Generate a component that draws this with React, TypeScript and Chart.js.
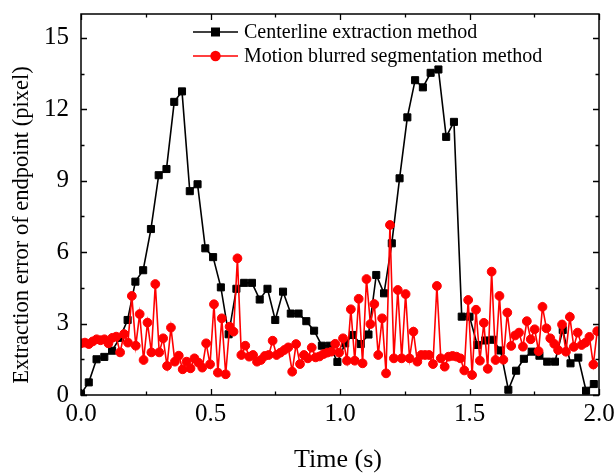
import React, { useEffect, useRef } from 'react';
import { Chart, registerables } from 'chart.js';

Chart.register(...registerables);

// ---- data ----
const seriesNames = ['Centerline extraction method', 'Motion blurred segmentation method'];
const centerlineStep = 0.03; // s between frames
const motionStep = 0.0151; // s between frames
const centerlineError = [
  0.05, 0.53, 1.5, 1.6, 1.86, 2.4, 3.15, 4.76, 5.24, 6.97,
  9.23, 9.49, 12.31, 12.75, 8.56, 8.85, 6.16, 5.79, 4.52, 2.55,
  4.46, 4.71, 4.71, 4.01, 4.46, 3.15, 4.34, 3.42, 3.42, 3.1,
  2.7, 2.07, 2.07, 1.39, 2.17, 2.52, 2.14, 2.54, 5.04, 4.27,
  6.37, 9.1, 11.66, 13.22, 12.92, 13.53, 13.67, 10.84, 11.47, 3.29,
  3.29, 2.1, 2.29, 2.32, 1.87, 0.22, 1.02, 1.52, 1.82, 1.65,
  1.4, 1.4, 2.73, 1.33, 1.57, 0.18, 0.46,
];
const motionBlurError = [
  2.17, 2.2, 2.14, 2.25, 2.34, 2.3, 2.34, 2.17, 2.4, 2.45, 1.79, 2.56, 2.2,
  4.16, 2.07, 3.4, 1.47, 3.04, 1.79, 4.66, 1.79, 2.38, 1.22, 2.83, 1.4, 1.65, 1.08, 1.4, 1.12,
  1.54, 1.36, 1.15, 2.17, 1.29, 3.81, 0.94, 3.22, 0.87, 2.87, 2.66, 5.74, 1.68, 2.07, 1.61, 1.68, 1.4,
  1.47, 1.64, 1.68, 2.28, 1.68, 1.78, 1.89, 2.0, 0.98, 2.14, 1.3, 1.68, 1.54, 1.99, 1.58, 1.62, 1.72, 1.78, 1.82,
  2.15, 1.78, 2.38, 1.44, 3.6, 1.44, 4.04, 1.33, 4.87, 2.98, 3.82, 1.68, 3.22, 0.91, 7.14, 1.54, 4.41,
  1.54, 4.24, 1.54, 2.66, 1.4, 1.68, 1.68, 1.68, 1.3, 4.58, 1.54, 1.19, 1.61, 1.64, 1.61, 1.54,
  1.03, 3.99, 0.84, 3.58, 1.44, 3.03, 1.1, 5.18, 1.47, 4.16, 1.48, 3.46, 2.06, 2.5, 2.62, 2.03, 3.1,
  2.34, 2.76, 1.84, 3.7, 2.8, 2.38, 2.15, 1.89, 2.96, 1.82, 3.28, 2.02, 2.62, 2.1, 2.2, 2.44, 1.28, 2.68,
];
const xTicks = [0, 0.5, 1.0, 1.5, 2.0];
const xMinorTicks = [0.25, 0.75, 1.25, 1.75];
const yTicks = [0, 3, 6, 9, 12, 15];
const yMinorTicks = [1.5, 4.5, 7.5, 10.5, 13.5];
const xTitle = 'Time (s)';
const yTitle = 'Extraction error of endpoint (pixel)';

const FONT = '"Liberation Serif", "Times New Roman", serif';
const RED = '#ff0000';
const BLACK = '#000000';

const framePlugin = {
  id: 'frame',
  afterDatasetsDraw(chart: any) {
    const { ctx, chartArea: a, scales } = chart;
    const x = scales.x;
    const y = scales.y;
    ctx.save();
    ctx.strokeStyle = BLACK;
    ctx.lineWidth = 1.5;
    ctx.strokeRect(a.left, a.top, a.right - a.left, a.bottom - a.top);
    ctx.lineWidth = 1.3;
    ctx.beginPath();
    const xt = (v: number, len: number) => {
      const px = Math.round(x.getPixelForValue(v)) + 0.5;
      ctx.moveTo(px, a.bottom);
      ctx.lineTo(px, a.bottom - len);
      ctx.moveTo(px, a.top);
      ctx.lineTo(px, a.top + len);
    };
    const yt = (v: number, len: number) => {
      const py = Math.round(y.getPixelForValue(v)) + 0.5;
      ctx.moveTo(a.left, py);
      ctx.lineTo(a.left + len, py);
      ctx.moveTo(a.right, py);
      ctx.lineTo(a.right - len, py);
    };
    xTicks.forEach((v) => xt(v, 6));
    xMinorTicks.forEach((v) => xt(v, 3.5));
    yTicks.forEach((v) => yt(v, 6));
    yMinorTicks.forEach((v) => yt(v, 3.5));
    ctx.stroke();

    // axis titles
    ctx.fillStyle = BLACK;
    ctx.textAlign = 'center';
    ctx.textBaseline = 'middle';
    ctx.font = `26px ${FONT}`;
    ctx.fillText(xTitle, (a.left + a.right) / 2 - 2, 460);
    ctx.font = `22.5px ${FONT}`;
    ctx.save();
    ctx.translate(22, 225);
    ctx.rotate(-Math.PI / 2);
    ctx.fillText(yTitle, 0, 0);
    ctx.restore();

    // legend
    const entries = [
      { label: seriesNames[0], color: BLACK, style: 'rect', yy: 32 },
      { label: seriesNames[1], color: RED, style: 'circle', yy: 56 },
    ];
    ctx.font = `20px ${FONT}`;
    ctx.textAlign = 'left';
    entries.forEach((e) => {
      ctx.strokeStyle = e.color;
      ctx.lineWidth = 1.5;
      ctx.beginPath();
      ctx.moveTo(193, e.yy);
      ctx.lineTo(238, e.yy);
      ctx.stroke();
      ctx.fillStyle = e.color;
      ctx.beginPath();
      if (e.style === 'rect') {
        ctx.rect(215.5 - 4.5, e.yy - 4.5, 9, 9);
      } else {
        ctx.arc(215.5, e.yy, 5.2, 0, Math.PI * 2);
      }
      ctx.fill();
      ctx.fillStyle = BLACK;
      ctx.fillText(e.label, 244, e.yy + 1);
    });
    ctx.restore();
  },
};

export default function App() {
  const ref = useRef<HTMLCanvasElement | null>(null);
  useEffect(() => {
    if (!ref.current) return;
    const chart = new Chart(ref.current, {
      type: 'line',
      data: {
        datasets: [
          {
            label: seriesNames[0],
            data: centerlineError.map((v, i) => ({ x: i * centerlineStep, y: v })),
            borderColor: BLACK,
            backgroundColor: BLACK,
            borderWidth: 1.6,
            pointStyle: 'rect',
            pointRadius: 5,
            pointBorderWidth: 1,
            tension: 0,
            order: 1,
          },
          {
            label: seriesNames[1],
            data: motionBlurError.map((v, i) => ({ x: i * motionStep, y: v })),
            borderColor: RED,
            backgroundColor: RED,
            borderWidth: 1.6,
            pointStyle: 'circle',
            pointRadius: 4.4,
            pointBorderWidth: 1,
            tension: 0,
            order: 0,
          },
        ],
      },
      options: {
        animation: false,
        responsive: false,
        maintainAspectRatio: false,
        layout: { padding: { left: 0, right: 16, top: 14, bottom: 0 } },
        plugins: { legend: { display: false }, tooltip: { enabled: false } },
        scales: {
          x: {
            type: 'linear',
            min: 0,
            max: 2,
            afterBuildTicks: (s: any) => {
              s.ticks = xTicks.map((v) => ({ value: v }));
            },
            afterFit: (s: any) => {
              s.height = 78;
              s.paddingLeft = 0;
              s.paddingRight = 0;
            },
            grid: { display: false, drawTicks: false },
            border: { display: false },
            ticks: {
              color: BLACK,
              font: { family: FONT, size: 25 },
              padding: 4,
              maxRotation: 0,
              autoSkip: false,
              callback: (v: any) => Number(v).toFixed(1),
            },
          },
          y: {
            type: 'linear',
            min: 0,
            max: 16,
            afterBuildTicks: (s: any) => {
              s.ticks = yTicks.map((v) => ({ value: v }));
            },
            afterFit: (s: any) => {
              s.width = 81;
              s.paddingTop = 0;
              s.paddingBottom = 0;
            },
            grid: { display: false, drawTicks: false },
            border: { display: false },
            ticks: {
              color: BLACK,
              font: { family: FONT, size: 25 },
              padding: 12,
              autoSkip: false,
              callback: (v: any) => String(v),
            },
          },
        },
      },
      plugins: [framePlugin],
    });
    return () => chart.destroy();
  }, []);
  return (
    <div style={{ position: 'fixed', left: 0, top: 0, width: 615, height: 473, background: '#fff' }}>
      <canvas ref={ref} width={615} height={473} style={{ width: 615, height: 473 }} />
    </div>
  );
}
